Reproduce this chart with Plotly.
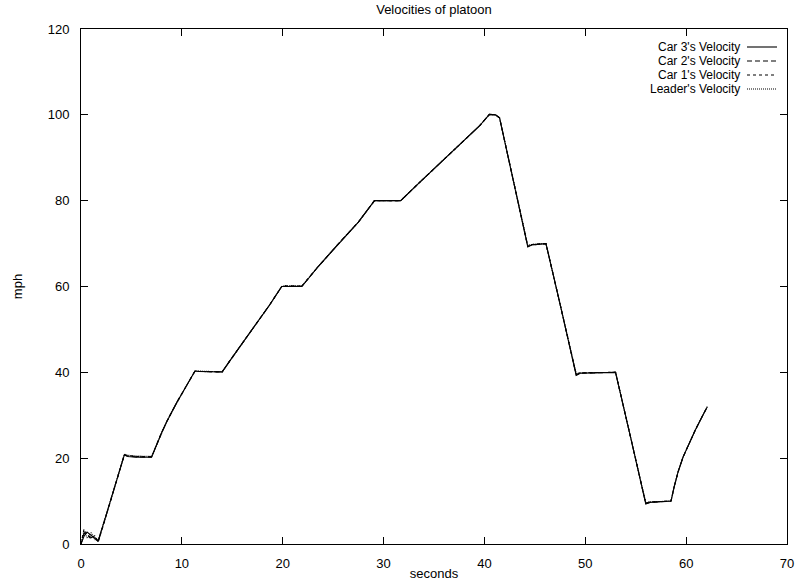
import plotly.graph_objects as go

# time axis (seconds)
t = [0, 0.3, 0.6, 1.0, 1.4, 1.7, 2.5, 3.5, 4.3, 4.6, 5.5, 7.0, 7.5, 8.0, 8.5, 9.0,
     9.5, 10.0, 10.6, 11.3, 11.7, 14.0, 14.7, 15.7, 16.7, 17.7, 18.7, 19.9, 20.3,
     21.9, 23.5, 25.5, 27.5, 29.1, 29.5, 31.7, 33.5, 35.5, 37.5, 39.5, 40.5, 41.1,
     41.5, 43.0, 44.3, 44.7, 46.1, 47.5, 48.6, 49.1, 49.5, 53.0, 54.5, 56.0, 56.4,
     58.5, 58.8, 59.2, 59.7, 60.3, 60.9, 61.5, 62.1]

leader = [0, 3.0, 1.5, 2.6, 1.0, 0.8, 6.8, 14.5, 20.9, 20.7, 20.5, 20.4, 23.2, 26.0,
          28.5, 30.8, 33.0, 35.0, 37.5, 40.3, 40.3, 40.1, 42.5, 45.8, 49.1, 52.4, 55.7,
          60.0, 60.2, 60.1, 64.6, 69.9, 75.0, 80.0, 80.0, 80.0, 84.1, 88.6, 93.0, 97.4,
          100.1, 100.0, 99.3, 83.4, 69.6, 69.8, 70.0, 55.9, 44.8, 39.7, 39.9, 40.0, 24.8,
          9.6, 9.8, 10.0, 13.2, 16.8, 20.3, 23.6, 26.5, 29.3, 32.0]
car1 = [0, 3.5, 2.0, 1.2, 2.0, 0.4, 6.6, 14.4, 20.8, 20.6, 20.4, 20.3, 23.2, 26.0,
        28.5, 30.8, 33.0, 35.0, 37.5, 40.3, 40.2, 40.1, 42.5, 45.8, 49.1, 52.4, 55.7,
        60.0, 60.1, 60.1, 64.6, 69.9, 75.0, 80.0, 80.0, 80.0, 84.1, 88.6, 93.0, 97.4,
        100.1, 100.0, 99.3, 83.4, 69.4, 69.8, 70.0, 55.9, 44.8, 39.5, 39.9, 40.0, 24.8,
        9.5, 9.8, 10.0, 13.2, 16.8, 20.3, 23.6, 26.5, 29.3, 32.0]
car2 = [0, 2.5, 2.2, 1.5, 1.6, 0.5, 6.7, 14.5, 20.8, 20.5, 20.3, 20.3, 23.2, 26.0,
        28.5, 30.8, 33.0, 35.0, 37.5, 40.3, 40.2, 40.1, 42.5, 45.8, 49.1, 52.4, 55.7,
        60.0, 60.1, 60.1, 64.6, 69.9, 75.0, 80.0, 80.0, 80.0, 84.1, 88.6, 93.0, 97.4,
        100.1, 100.0, 99.3, 83.4, 69.3, 69.7, 70.0, 55.9, 44.8, 39.4, 39.8, 40.0, 24.8,
        9.4, 9.7, 10.0, 13.2, 16.8, 20.3, 23.6, 26.5, 29.3, 32.0]
car3 = [0, 1.8, 2.8, 2.0, 1.3, 0.7, 6.8, 14.6, 20.8, 20.4, 20.2, 20.2, 23.2, 26.0,
        28.5, 30.8, 33.0, 35.0, 37.5, 40.3, 40.2, 40.1, 42.5, 45.8, 49.1, 52.4, 55.7,
        60.0, 60.0, 60.0, 64.6, 69.9, 75.0, 80.0, 80.0, 80.0, 84.1, 88.6, 93.0, 97.4,
        100.1, 100.0, 99.3, 83.4, 69.2, 69.7, 70.0, 55.9, 44.8, 39.3, 39.8, 40.0, 24.8,
        9.3, 9.7, 10.0, 13.2, 16.8, 20.3, 23.6, 26.5, 29.3, 32.0]

names = ["Car 3's Velocity", "Car 2's Velocity", "Car 1's Velocity", "Leader's Velocity"]
series = [car3, car2, car1, leader]
dashes = ["solid", "5px,3px", "3px,3px", "1px,1px"]

x_ticks = [0, 10, 20, 30, 40, 50, 60, 70]
y_ticks = [0, 20, 40, 60, 80, 100, 120]

FONT = "Liberation Sans"

fig = go.Figure()
for name, ys, d in zip(names, series, dashes):
    fig.add_trace(go.Scatter(x=t, y=ys, mode="lines", name=name, showlegend=False,
                             line=dict(color="black", width=1.1, dash=d)))

# gnuplot-style key: right-aligned text followed by a line sample
row_y = [47, 61, 75, 89]  # pixel rows
for name, d, py in zip(names, dashes, row_y):
    yp = (544 - py) / 515
    fig.add_annotation(x=(742 - 81) / 706, y=yp, xref="paper", yref="paper",
                       text=name, showarrow=False, xanchor="right", yanchor="middle",
                       font=dict(family=FONT, size=12, color="black"))
    fig.add_shape(type="line", xref="paper", yref="paper",
                  x0=(747 - 81) / 706, x1=(777 - 81) / 706, y0=yp, y1=yp,
                  line=dict(color="black", width=1.1, dash=d))

axis_common = dict(showgrid=False, zeroline=False, showline=True, linecolor="black",
                   linewidth=1, mirror="ticks", ticks="inside", ticklen=7,
                   tickcolor="black", tickwidth=1, automargin=False,
                   tickfont=dict(family=FONT, size=13, color="black"))

fig.update_xaxes(range=[0, 70], tickvals=x_ticks, ticklabelstandoff=7,
                 title=dict(text="seconds", standoff=2,
                            font=dict(family=FONT, size=13, color="black")),
                 **axis_common)
fig.update_yaxes(range=[0, 120], tickvals=y_ticks, ticklabelstandoff=8,
                 title=dict(text="mph", standoff=22,
                            font=dict(family=FONT, size=13, color="black")),
                 **axis_common)

fig.update_layout(
    width=799, height=581,
    margin=dict(l=81, r=12, t=29, b=37),
    paper_bgcolor="white", plot_bgcolor="white",
    title=dict(text="Velocities of platoon", x=(434) / 799, xanchor="center",
               y=1 - 9 / 581, yanchor="middle",
               font=dict(family=FONT, size=13, color="black")),
)

fig.write_html("out.html")
